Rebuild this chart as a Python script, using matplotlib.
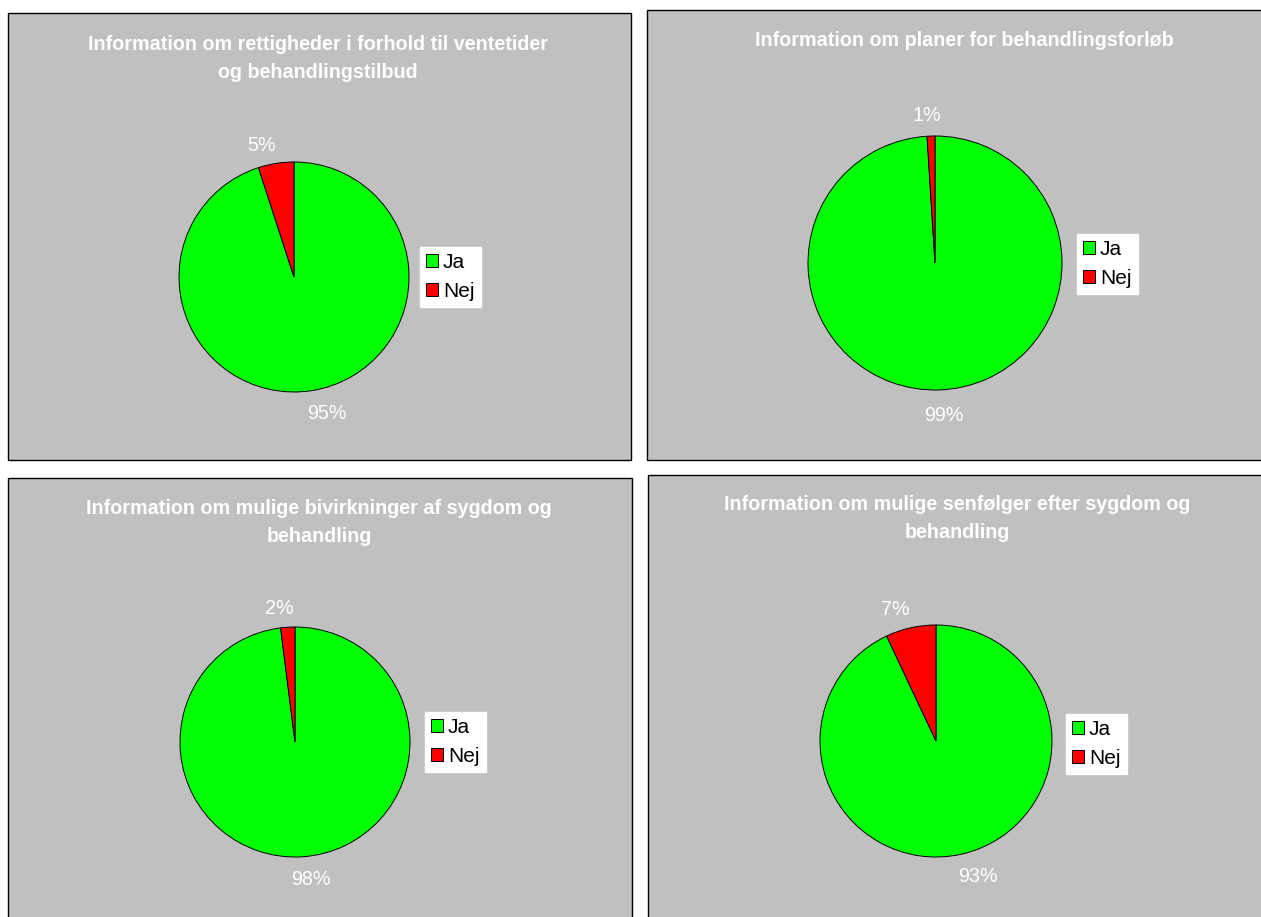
import numpy as np
import matplotlib
matplotlib.use('Agg')
import matplotlib.pyplot as plt
from matplotlib.patches import Rectangle

plt.rcParams['font.family'] = ['Liberation Sans', 'DejaVu Sans']

titles = [
    'Information om rettigheder i forhold til ventetider\nog behandlingstilbud',
    'Information om planer for behandlingsforløb',
    'Information om mulige bivirkninger af sygdom og\nbehandling',
    'Information om mulige senfølger efter sygdom og\nbehandling',
]
categories = ['Ja', 'Nej']
ja_values = [95, 99, 98, 93]
nej_values = [5, 1, 2, 7]
colors = ['#00FF00', '#FF0000']

W, H = 1261, 917
fig = plt.figure(figsize=(W / 100, H / 100), dpi=100)
fig.patch.set_facecolor('white')

# layout in pixels
panels = [(8, 13, 631, 460), (647, 10, 1265, 460), (8, 478, 632, 925), (648, 475, 1265, 925)]
title_pos = [(318, 58), (964, 40), (319, 522), (957, 518)]
pie_geom = [(294, 277, 115), (935, 263, 127), (295, 742, 115), (936, 741, 116)]
legend_pos = [(420, 277), (1077, 264), (425, 742), (1066, 744)]
label_dist = [1.2, 1.16]


def fx(x):
    return x / W


def fy(y):
    return 1 - y / H


for i in range(4):
    x0, y0, x1, y1 = panels[i]
    fig.patches.append(Rectangle((fx(x0), fy(y1)), (x1 - x0) / W, (y1 - y0) / H,
                                 transform=fig.transFigure, facecolor='#C0C0C0',
                                 edgecolor='black', linewidth=1.0, zorder=-5))
    tx, ty = title_pos[i]
    fig.text(fx(tx), fy(ty), titles[i], ha='center', va='center', color='white',
             fontweight='bold', fontsize=14.2, linespacing=1.6, zorder=5)

    cx, cy, r = pie_geom[i]
    ax = fig.add_axes([fx(cx - r), fy(cy + r), 2 * r / W, 2 * r / H], zorder=2)
    ax.patch.set_visible(False)
    vals = [ja_values[i], nej_values[i]]
    wedges, _ = ax.pie(vals, colors=colors, startangle=90, counterclock=False,
                       wedgeprops=dict(edgecolor='black', linewidth=0.7))
    for k, (w, v) in enumerate(zip(wedges, vals)):
        ang = np.deg2rad((w.theta1 + w.theta2) / 2)
        c, s = np.cos(ang), np.sin(ang)
        d = label_dist[k]
        shift = np.sign(c) * min(0.1, 1.0 * abs(c))
        ax.text(d * c + shift, d * s, f'{v}%', ha='center', va='center',
                color='white', fontsize=14.2, clip_on=False)
    ax.set_xlim(-1, 1)
    ax.set_ylim(-1, 1)
    ax.set_aspect('equal')
    ax.axis('off')

    lx, ly = legend_pos[i]
    leg = fig.legend(wedges, categories, loc='center left', bbox_to_anchor=(fx(lx), fy(ly)),
                     bbox_transform=fig.transFigure, fontsize=15, frameon=True,
                     facecolor='white', edgecolor='white', framealpha=1, fancybox=False,
                     handlelength=0.58, handleheight=0.58, handletextpad=0.22,
                     labelspacing=0.5, borderpad=0.3, borderaxespad=0)
    leg.set_zorder(6)

fig.savefig('out.png', dpi=100, facecolor='white')
